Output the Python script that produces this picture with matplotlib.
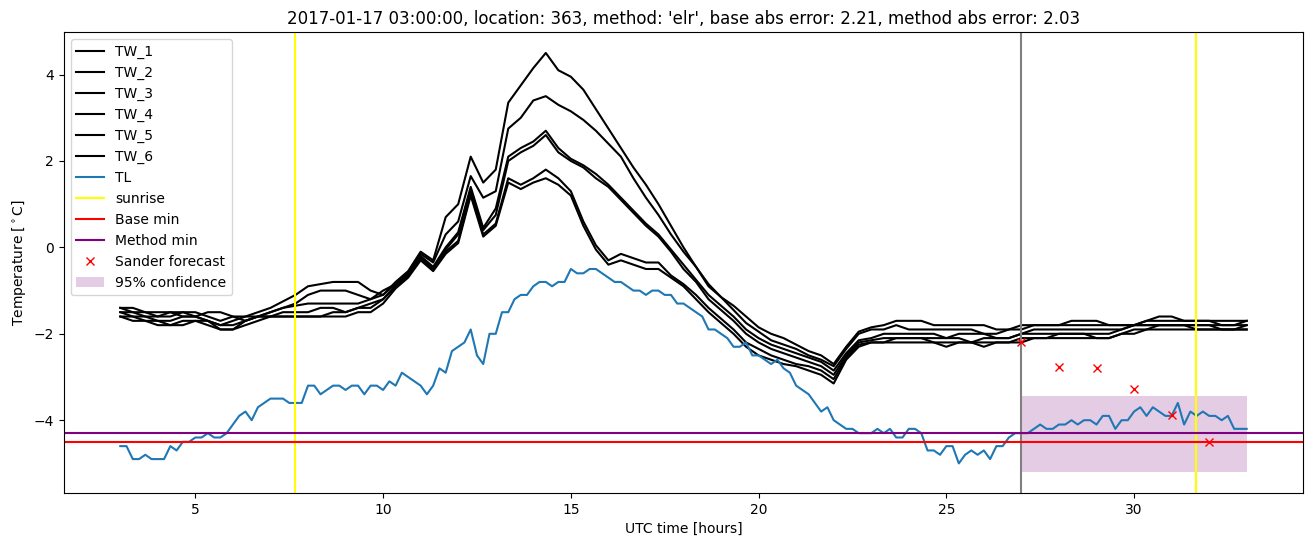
import numpy as np
import matplotlib
matplotlib.use('Agg')
import matplotlib.pyplot as plt

# TL, 10 minute steps from 03:00 to 33:00
tl = [-4.6, -4.6, -4.9, -4.9, -4.8, -4.9,
      -4.9, -4.9, -4.6, -4.7, -4.5, -4.5,
      -4.4, -4.4, -4.3, -4.4, -4.4, -4.3,
      -4.1, -3.9, -3.8, -4.0, -3.7, -3.6,
      -3.5, -3.5, -3.5, -3.6, -3.6, -3.6,
      -3.2, -3.2, -3.4, -3.3, -3.2, -3.2,
      -3.3, -3.2, -3.2, -3.4, -3.2, -3.2,
      -3.3, -3.1, -3.2, -2.9, -3.0, -3.1,
      -3.2, -3.4, -3.2, -2.8, -2.9, -2.4,
      -2.3, -2.2, -1.9, -2.5, -2.7, -2.0,
      -2.0, -1.5, -1.5, -1.2, -1.1, -1.1,
      -0.9, -0.8, -0.8, -0.9, -0.8, -0.8,
      -0.5, -0.6, -0.6, -0.5, -0.5, -0.6,
      -0.7, -0.8, -0.8, -0.9, -1.0, -1.0,
      -1.1, -1.0, -1.0, -1.1, -1.1, -1.3,
      -1.3, -1.4, -1.5, -1.6, -1.9, -1.9,
      -2.0, -2.1, -2.3, -2.3, -2.2, -2.5,
      -2.5, -2.6, -2.7, -2.6, -2.8, -2.9,
      -3.2, -3.3, -3.4, -3.6, -3.8, -3.7,
      -4.0, -4.1, -4.2, -4.2, -4.3, -4.3,
      -4.3, -4.2, -4.3, -4.2, -4.4, -4.4,
      -4.2, -4.2, -4.3, -4.7, -4.7, -4.8,
      -4.6, -4.6, -5.0, -4.8, -4.7, -4.8,
      -4.7, -4.9, -4.6, -4.6, -4.4, -4.3,
      -4.3, -4.3, -4.2, -4.1, -4.2, -4.2,
      -4.1, -4.1, -4.0, -4.1, -4.0, -4.0,
      -4.1, -3.9, -3.9, -4.2, -4.0, -4.0,
      -3.8, -3.7, -3.9, -3.7, -3.8, -3.9,
      -3.9, -3.6, -4.1, -3.8, -3.9, -3.8,
      -3.9, -3.9, -4.0, -3.9, -4.2, -4.2,
      -4.2]

# TW sensors, 20 minute steps from 03:00 to 33:00
tw_1 = [-1.4, -1.5, -1.5, -1.6, -1.6, -1.5, -1.5, -1.6, -1.7, -1.6, -1.6, -1.5, -1.4, -1.25, -1.1, -0.9, -0.85, -0.8, -0.8, -0.8, -1.0, -1.1,
        -0.8, -0.55, -0.1, -0.3, 0.7, 1.0, 2.1, 1.5, 1.8, 3.35, 3.75, 4.15, 4.5, 4.1, 3.95, 3.65, 3.2, 2.75, 2.3, 1.85, 1.45, 1.0, 0.5,
        0.0, -0.45, -0.85, -1.15, -1.35, -1.6, -1.85, -2.0, -2.1, -2.25, -2.4, -2.5, -2.7, -2.3, -1.95,
        -1.85, -1.8, -1.7, -1.7, -1.7, -1.8, -1.8, -1.8, -1.8, -1.8, -1.9, -1.9, -1.8, -1.8, -1.8, -1.8, -1.7, -1.7, -1.7, -1.8,
        -1.8, -1.8, -1.7, -1.6, -1.6, -1.7, -1.7, -1.7, -1.7, -1.7, -1.7]
tw_2 = [-1.4, -1.4, -1.5, -1.5, -1.5, -1.6, -1.6, -1.5, -1.5, -1.6, -1.7, -1.6, -1.5, -1.4, -1.3, -1.1, -1.0, -1.0, -1.0, -1.1, -1.2, -1.0,
        -0.85, -0.6, -0.15, -0.35, 0.3, 0.6, 1.65, 1.15, 1.3, 2.75, 3.0, 3.4, 3.5, 3.3, 3.15, 2.95, 2.7, 2.4, 2.1, 1.6, 1.15, 0.75, 0.3,
        -0.1, -0.45, -0.9, -1.15, -1.45, -1.75, -1.95, -2.15, -2.25, -2.35, -2.5, -2.6, -2.75, -2.35, -2.0,
        -1.9, -1.9, -1.8, -1.9, -1.9, -1.9, -1.9, -1.9, -1.9, -2.0, -2.0, -1.9, -1.9, -1.8, -1.8, -1.8, -1.8, -1.8, -1.8, -1.8,
        -1.8, -1.8, -1.7, -1.7, -1.7, -1.7, -1.7, -1.7, -1.8, -1.8, -1.7]
tw_3 = [-1.5, -1.5, -1.6, -1.6, -1.5, -1.5, -1.6, -1.7, -1.8, -1.7, -1.6, -1.6, -1.5, -1.4, -1.35, -1.3, -1.3, -1.3, -1.3, -1.3, -1.2, -1.1,
        -0.85, -0.6, -0.2, -0.45, 0.0, 0.35, 1.4, 0.45, 0.9, 2.1, 2.3, 2.45, 2.7, 2.3, 2.05, 1.9, 1.7, 1.45, 1.15, 0.85, 0.55, 0.3, -0.05,
        -0.4, -0.75, -1.1, -1.35, -1.6, -1.9, -2.1, -2.25, -2.35, -2.45, -2.55, -2.65, -2.85, -2.45, -2.15,
        -2.1, -2.0, -2.0, -2.0, -2.0, -2.0, -2.1, -2.0, -2.0, -2.0, -2.1, -2.1, -2.0, -1.9, -1.9, -1.9, -1.9, -1.9, -1.9, -1.9,
        -1.9, -1.8, -1.8, -1.8, -1.8, -1.8, -1.8, -1.8, -1.9, -1.9, -1.8]
tw_4 = [-1.5, -1.6, -1.6, -1.7, -1.7, -1.6, -1.6, -1.7, -1.9, -1.9, -1.8, -1.7, -1.6, -1.5, -1.5, -1.5, -1.4, -1.4, -1.5, -1.4, -1.3, -1.2,
        -0.9, -0.65, -0.25, -0.5, -0.05, 0.3, 1.35, 0.4, 0.75, 2.0, 2.2, 2.35, 2.6, 2.2, 2.0, 1.85, 1.6, 1.4, 1.1, 0.8, 0.5, 0.25, -0.1,
        -0.5, -0.8, -1.2, -1.45, -1.7, -2.0, -2.2, -2.35, -2.45, -2.55, -2.65, -2.75, -2.95, -2.5, -2.2,
        -2.15, -2.1, -2.1, -2.1, -2.1, -2.1, -2.1, -2.1, -2.2, -2.1, -2.1, -2.1, -2.0, -2.0, -2.0, -2.0, -2.0, -2.0, -2.0, -2.0,
        -1.9, -1.8, -1.8, -1.8, -1.8, -1.8, -1.8, -1.8, -1.8, -1.8, -1.8]
tw_5 = [-1.6, -1.6, -1.7, -1.7, -1.8, -1.7, -1.7, -1.8, -1.9, -1.9, -1.7, -1.6, -1.6, -1.6, -1.6, -1.6, -1.6, -1.5, -1.5, -1.4, -1.4, -1.2,
        -0.9, -0.65, -0.25, -0.5, -0.1, 0.15, 1.25, 0.3, 0.55, 1.6, 1.45, 1.6, 1.8, 1.6, 1.3, 0.6, 0.05, -0.3, -0.15, -0.25, -0.35, -0.35, -0.65,
        -0.85, -1.1, -1.4, -1.65, -1.9, -2.2, -2.35, -2.5, -2.6, -2.7, -2.75, -2.85, -3.05, -2.55, -2.25,
        -2.2, -2.2, -2.1, -2.1, -2.1, -2.2, -2.2, -2.2, -2.2, -2.2, -2.2, -2.2, -2.1, -2.1, -2.1, -2.0, -2.0, -2.0, -2.1, -2.1,
        -2.0, -1.9, -1.9, -1.8, -1.8, -1.8, -1.9, -1.9, -1.9, -1.9, -1.9]
tw_6 = [-1.6, -1.7, -1.7, -1.8, -1.8, -1.8, -1.7, -1.7, -1.8, -1.8, -1.7, -1.6, -1.6, -1.6, -1.6, -1.6, -1.6, -1.6, -1.6, -1.5, -1.5, -1.3,
        -0.95, -0.7, -0.3, -0.55, -0.15, 0.1, 1.2, 0.25, 0.5, 1.5, 1.35, 1.5, 1.6, 1.45, 1.2, 0.5, -0.05, -0.4, -0.3, -0.4, -0.5, -0.5, -0.7,
        -0.9, -1.2, -1.5, -1.75, -2.0, -2.3, -2.5, -2.6, -2.7, -2.75, -2.85, -2.95, -3.15, -2.6, -2.3,
        -2.2, -2.2, -2.2, -2.2, -2.2, -2.2, -2.3, -2.2, -2.2, -2.3, -2.2, -2.2, -2.2, -2.1, -2.1, -2.1, -2.1, -2.1, -2.1, -2.1,
        -2.0, -2.0, -1.9, -1.9, -1.9, -1.9, -1.9, -1.9, -1.9, -1.9, -1.9]

sunrise = [7.66, 31.66]
forecast_start = 27.0
base_min = -4.5
method_min = -4.3
sander_hours = [27, 28, 29, 30, 31, 32]
sander_temp = [-2.2, -2.78, -2.8, -3.28, -3.89, -4.51]
conf_low = -5.2
conf_high = -3.45

t_tl = 3 + np.arange(len(tl)) / 6.0
t_tw = 3 + np.arange(len(tw_1)) / 3.0

fig, ax = plt.subplots(figsize=(13.13, 5.47), dpi=100)
fig.subplots_adjust(left=0.0487, right=0.9924, top=0.9415, bottom=0.0987)

for i, tw in enumerate([tw_1, tw_2, tw_3, tw_4, tw_5, tw_6]):
    ax.plot(t_tw, tw, color='black', label='TW_%d' % (i + 1))
ax.plot(t_tl, tl, color='tab:blue', label='TL')
ax.axvline(sunrise[0], color='yellow', label='sunrise')
ax.axvline(sunrise[1], color='yellow')
ax.axvline(forecast_start, color='grey')
ax.axhline(base_min, color='red', label='Base min')
ax.axhline(method_min, color='purple', label='Method min')
ax.plot(sander_hours, sander_temp, 'x', color='red', label='Sander forecast')
conf_x = [forecast_start, t_tl[-1]]
ax.fill_between(conf_x, [conf_low] * 2, [conf_high] * 2, color='purple', alpha=0.2,
                linewidth=0, label='95% confidence')

ax.set_title("2017-01-17 03:00:00, location: 363, method: 'elr', base abs error: 2.21, method abs error: 2.03")
ax.set_xlabel('UTC time [hours]')
ax.set_ylabel(r'Temperature [$^\circ$C]')
ax.legend(loc='upper left')

fig.savefig('out.png')
